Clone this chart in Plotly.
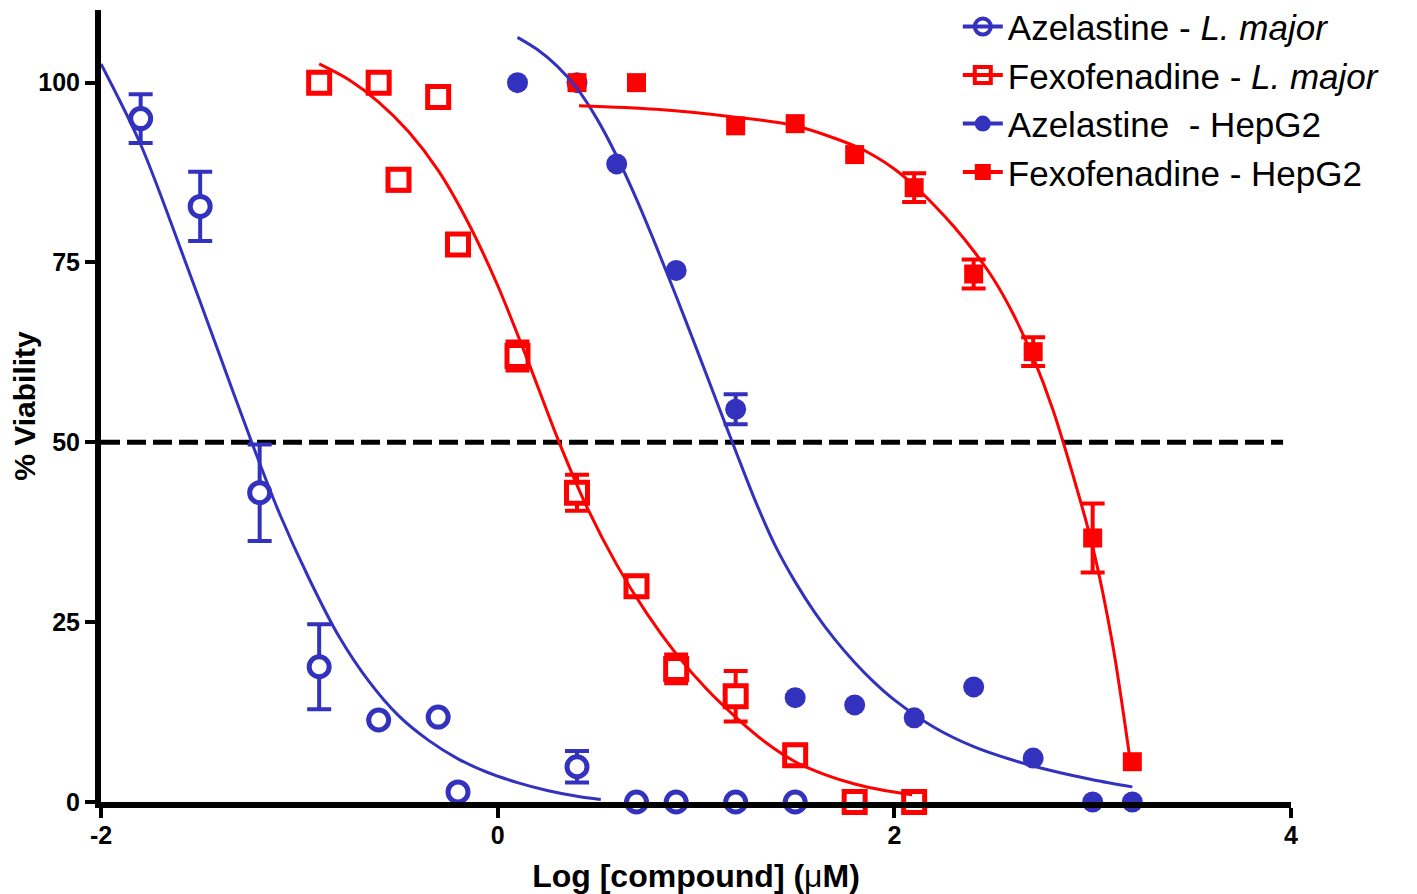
import plotly.graph_objects as go

BLUE = "#3232BE"
RED = "#FF0000"

# ---------------- data ----------------
# Azelastine - L. major (open circles)
aze_lm_x = [-1.80, -1.50, -1.20, -0.90, -0.60, -0.30, -0.20, 0.40, 0.70, 0.90, 1.20, 1.50]
aze_lm_y = [95.0, 82.8, 43.0, 18.8, 11.4, 11.8, 1.4, 4.9, 0.0, 0.0, 0.0, 0.0]
aze_lm_err = [3.4, 4.8, 6.7, 5.9, None, None, None, 2.2, None, None, None, None]

# Fexofenadine - L. major (open squares)
fex_lm_x = [-0.90, -0.60, -0.30, -0.50, -0.20, 0.10, 0.40, 0.70, 0.90, 1.20, 1.50, 1.80, 2.10]
fex_lm_y = [100.0, 100.0, 98.0, 86.5, 77.5, 62.0, 43.0, 30.0, 18.5, 14.7, 6.5, 0.0, 0.0]
fex_lm_err = [None, None, None, 1.5, None, 2.0, 2.5, None, 2.0, 3.5, None, None, None]

# Azelastine - HepG2 (filled circles)
aze_hep_x = [0.10, 0.40, 0.60, 0.90, 1.20, 1.50, 1.80, 2.10, 2.40, 2.70, 3.00, 3.20]
aze_hep_y = [100.0, 100.0, 88.7, 73.9, 54.6, 14.5, 13.5, 11.7, 16.0, 6.1, 0.0, 0.0]
aze_hep_err = [None, None, None, None, 2.1, None, None, None, None, None, None, None]

# Fexofenadine - HepG2 (filled squares)
fex_hep_x = [0.40, 0.70, 1.20, 1.50, 1.80, 2.10, 2.40, 2.70, 3.00, 3.20]
fex_hep_y = [100.0, 100.0, 94.0, 94.3, 90.0, 85.4, 73.4, 62.6, 36.7, 5.6]
fex_hep_err = [None, None, None, None, None, 2.0, 2.0, 2.0, 4.8, None]

# Fitted curves
aze_lm_fit_x = [-2.00, -1.80, -1.60, -1.40, -1.24, -1.10, -0.95, -0.80, -0.65, -0.50,
                -0.35, -0.20, -0.05, 0.10, 0.25, 0.40, 0.52]
aze_lm_fit_y = [102.6, 91.4, 77.0, 62.0, 50.0, 40.1, 31.0, 23.0, 16.8, 12.0,
                8.6, 6.0, 4.1, 2.7, 1.6, 0.8, 0.35]

fex_lm_fit_x = [-0.90, -0.75, -0.60, -0.45, -0.30, -0.15, 0.00, 0.15, 0.31, 0.45,
                0.60, 0.75, 0.90, 1.05, 1.20, 1.35, 1.50, 1.65, 1.80, 1.95, 2.09]
fex_lm_fit_y = [102.6, 100.4, 97.3, 93.2, 87.8, 80.6, 71.8, 61.5, 50.0, 41.0,
                33.0, 26.3, 20.6, 15.8, 11.8, 8.3, 5.6, 3.8, 2.5, 1.6, 1.0]

aze_hep_fit_x = [0.10, 0.20, 0.30, 0.40, 0.50, 0.60, 0.70, 0.80, 0.90, 1.00, 1.10,
                 1.20, 1.30, 1.40, 1.50, 1.60, 1.70, 1.80, 1.90, 2.00, 2.20, 2.40,
                 2.60, 2.80, 3.00, 3.20]
aze_hep_fit_y = [106.3, 104.6, 102.3, 99.2, 95.0, 89.8, 83.8, 77.2, 70.3, 63.2, 56.0,
                 48.8, 41.8, 35.6, 30.6, 26.3, 22.6, 19.4, 16.6, 14.2, 10.4, 7.7,
                 5.8, 4.3, 3.1, 2.1]

fex_hep_fit_x = [0.41, 0.80, 1.20, 1.50, 1.80, 1.90, 2.00, 2.10, 2.20, 2.30, 2.40,
                 2.50, 2.60, 2.70, 2.80, 2.90, 3.00, 3.10, 3.19]
fex_hep_fit_y = [96.8, 96.3, 95.2, 94.0, 91.2, 89.8, 88.0, 85.7, 83.0, 80.0, 76.6,
                 72.7, 67.8, 61.8, 54.5, 45.5, 35.5, 22.0, 5.6]

legend_names = [
    "Azelastine - <i>L. major</i>",
    "Fexofenadine - <i>L. major</i>",
    "Azelastine  - HepG2",
    "Fexofenadine - HepG2",
]

x_ticks = [-2, 0, 2, 4]
y_ticks = [0, 25, 50, 75, 100]
threshold = 50
threshold_end = 3.96

# ---------------- figure ----------------
fig = go.Figure()


def add_points(x, y, err, color, symbol, size, hollow):
    # error bars only for points that have them (drawn first, under the markers)
    ex = [xi for xi, e in zip(x, err) if e is not None]
    ey = [yi for yi, e in zip(y, err) if e is not None]
    ee = [e for e in err if e is not None]
    if ex:
        fig.add_trace(go.Scatter(
            x=ex, y=ey, mode="markers", marker=dict(size=size, opacity=0),
            showlegend=False, cliponaxis=False, hoverinfo="skip",
            error_y=dict(type="data", array=ee, visible=True, color=color,
                         thickness=4, width=12),
        ))
    marker = dict(symbol=symbol, size=size, color="white" if hollow else color,
                  line=dict(color=color, width=5 if hollow else 0))
    fig.add_trace(go.Scatter(x=x, y=y, mode="markers", marker=marker,
                             showlegend=False, cliponaxis=False, hoverinfo="x+y"))


add_points(aze_lm_x, aze_lm_y, aze_lm_err, BLUE, "circle", 20, True)
add_points(fex_lm_x, fex_lm_y, fex_lm_err, RED, "square", 21, True)
add_points(aze_hep_x, aze_hep_y, aze_hep_err, BLUE, "circle", 21, False)
add_points(fex_hep_x, fex_hep_y, fex_hep_err, RED, "square", 19, False)

for cx, cy, col in [(aze_lm_fit_x, aze_lm_fit_y, BLUE), (fex_lm_fit_x, fex_lm_fit_y, RED),
                    (aze_hep_fit_x, aze_hep_fit_y, BLUE), (fex_hep_fit_x, fex_hep_fit_y, RED)]:
    fig.add_trace(go.Scatter(x=cx, y=cy, mode="lines", showlegend=False,
                             line=dict(color=col, width=3, shape="spline", smoothing=0.9),
                             hoverinfo="skip", cliponaxis=False))

# legend-only entries (line + marker symbol)
leg_styles = [
    (BLUE, "circle-open", 4),
    (RED, "square-open", 4),
    (BLUE, "circle", 0),
    (RED, "square", 0),
]
for name, (col, sym, lw) in zip(legend_names, leg_styles):
    fig.add_trace(go.Scatter(
        x=[None], y=[None], mode="lines+markers", name=name,
        line=dict(color=col, width=4),
        marker=dict(symbol=sym, size=16, color=col, line=dict(color=col, width=lw)),
    ))

fig.add_shape(type="line", xref="x", yref="y", x0=x_ticks[0], x1=threshold_end,
              y0=threshold, y1=threshold, layer="below",
              line=dict(color="black", width=5, dash="19px,7px"))

FAMILY = "Liberation Sans, Arial, sans-serif"
tick_font = dict(family=FAMILY, size=25, color="black", weight="bold")

fig.update_layout(
    width=1409, height=886,
    margin=dict(l=93, r=126, t=2, b=92, autoexpand=False),
    paper_bgcolor="white", plot_bgcolor="white",
    font=dict(family=FAMILY, color="black"),
    showlegend=True,
    legend=dict(x=0.72, y=1.016, xanchor="left", yanchor="top",
                font=dict(family=FAMILY, size=35, color="black"),
                bgcolor="rgba(0,0,0,0)", itemwidth=40, tracegroupgap=0),
    xaxis=dict(range=[-2, 4], tickvals=x_ticks, ticktext=[str(v) for v in x_ticks],
               showline=True, linewidth=6, linecolor="black", mirror=False,
               ticks="outside", ticklen=10, tickwidth=4, tickcolor="black",
               ticklabelstandoff=-4,
               showgrid=False, zeroline=False, tickfont=tick_font, layer="above traces",
               title=dict(text="Log [compound] (<span style='font-weight:normal'>μ</span>M)",
                          font=dict(family=FAMILY, size=32, color="black", weight="bold"),
                          standoff=20)),
    yaxis=dict(range=[0, 110.1], tickvals=y_ticks, ticktext=[str(v) for v in y_ticks],
               showline=True, linewidth=6, linecolor="black", mirror=False,
               ticks="outside", ticklen=10, tickwidth=4, tickcolor="black",
               showgrid=False, zeroline=False, tickfont=tick_font, layer="above traces",
               title=dict(text="% Viability",
                          font=dict(family=FAMILY, size=30, color="black", weight="bold"),
                          standoff=3)),
)

fig.write_html("out.html")
